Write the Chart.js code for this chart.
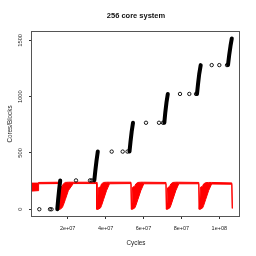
<!DOCTYPE html>
<html>
<head>
<meta charset="utf-8">
<script src="https://cdn.jsdelivr.net/npm/chart.js@4.4.1/dist/chart.umd.min.js"></script>
<style>
  html, body { margin: 0; padding: 0; background: #fff; }
  canvas { display: block; }
</style>
</head>
<body>
<canvas id="chart" width="256" height="256"></canvas>
<script>
// black circles (cores / blocks handed out)
const dotCycles = [5.01e6, 1.066e7, 1.145e7, 2.438e7, 3.177e7, 3.266e7, 4.322e7, 4.902e7, 5.156e7,
  6.132e7, 6.818e7, 7.029e7, 7.926e7, 8.417e7, 8.770e7, 9.599e7, 1.0e8, 1.0406e8];
const dotValues = [0, 0, 0, 256, 256, 256, 512, 512, 512, 768, 768, 768, 1024, 1024, 1024, 1280, 1280, 1280];

// the dense runs of circles where the count climbs
const rampCycles = [
  [1.451e7, 1.495e7, 1.545e7, 1.605e7],
  [3.404e7, 3.456e7, 3.520e7, 3.588e7],
  [5.261e7, 5.314e7, 5.377e7, 5.446e7],
  [7.098e7, 7.150e7, 7.214e7, 7.282e7],
  [8.823e7, 8.876e7, 8.939e7, 9.018e7],
  [1.0459e8, 1.0522e8, 1.0591e8, 1.0660e8]
];
const rampValues = [
  [0, 85, 170, 256],
  [256, 340, 430, 512],
  [512, 600, 690, 768],
  [768, 860, 950, 1024],
  [1024, 1110, 1200, 1280],
  [1280, 1370, 1450, 1517]
];

// red trace: top and bottom of the busy band
const redCycles = [0, 4.33e6, 4.64e6, 1.515e7, 1.536e7, 1.557e7, 1.599e7, 1.715e7, 1.768e7, 1.873e7, 2.032e7, 2.296e7,
  3.520e7, 3.541e7, 3.573e7, 3.615e7, 3.731e7, 3.784e7, 3.889e7, 4.047e7, 4.206e7,
  5.340e7, 5.361e7, 5.383e7, 5.425e7, 5.541e7, 5.594e7, 5.699e7, 5.858e7, 6.016e7,
  7.187e7, 7.208e7, 7.230e7, 7.272e7, 7.388e7, 7.441e7, 7.546e7, 7.704e7, 7.863e7,
  8.918e7, 8.939e7, 8.960e7, 9.003e7, 9.119e7, 9.171e7, 9.277e7, 9.435e7, 9.594e7,
  1.0660e8, 1.0686e8];
const redUpper = [232, 232, 238, 240, 0, 0, 195, 205, 225, 238, 240, 240,
  240, 0, 0, 190, 200, 225, 238, 240, 240,
  240, 0, 0, 195, 205, 225, 238, 240, 240,
  238, 0, 0, 190, 205, 225, 238, 240, 240,
  238, 0, 0, 195, 205, 225, 236, 238, 238,
  234, 10];
const redLower = [160, 165, 226, 228, 0, 0, 0, 15, 35, 85, 165, 228,
  228, 0, 0, 0, 12, 32, 85, 165, 226,
  228, 0, 0, 0, 12, 32, 85, 165, 226,
  226, 0, 0, 0, 12, 32, 85, 165, 226,
  226, 0, 0, 0, 12, 32, 85, 165, 224,
  222, 5];

const xTickValues = [2e7, 4e7, 6e7, 8e7, 1e8];
const xTickLabels = ["2e+07", "4e+07", "6e+07", "8e+07", "1e+08"];
const yTickValues = [0, 500, 1000, 1500];

const FONT = "'Liberation Sans', Arial, sans-serif";

const dots = dotCycles.map((c, i) => ({ x: c, y: dotValues[i] }));
const upper = redCycles.map((c, i) => ({ x: c, y: redUpper[i] }));
const lower = redCycles.map((c, i) => ({ x: c, y: redLower[i] }));

const rampSets = rampCycles.map((cs, k) => ({
  data: cs.map((c, i) => ({ x: c, y: rampValues[k][i] })),
  borderColor: "#000",
  borderWidth: 4,
  borderCapStyle: "round",
  borderJoinStyle: "round",
  pointRadius: 0,
  fill: false
}));

// R style box round the plot region
const boxPlugin = {
  id: "box",
  afterDraw(chart) {
    const { ctx, chartArea: a } = chart;
    ctx.save();
    ctx.strokeStyle = "#555";
    ctx.lineWidth = 1;
    ctx.strokeRect(a.left - 0.5, a.top - 0.5, a.right - a.left, a.bottom - a.top + 1);
    ctx.restore();
  }
};

new Chart(document.getElementById("chart"), {
  type: "line",
  data: {
    datasets: [
      {
        data: dots,
        showLine: false,
        pointRadius: 1.7,
        pointBorderWidth: 0.9,
        pointBorderColor: "#000",
        pointBackgroundColor: "rgba(0,0,0,0)"
      },
      ...rampSets,
      {
        data: upper,
        borderColor: "#f00",
        borderWidth: 1,
        pointRadius: 0,
        fill: false
      },
      {
        data: lower,
        borderColor: "#f00",
        borderWidth: 1,
        pointRadius: 0,
        backgroundColor: "#f00",
        fill: "-1"
      }
    ]
  },
  options: {
    responsive: false,
    animation: false,
    devicePixelRatio: 1,
    layout: { padding: { left: 0, right: 16, top: 0, bottom: 0 } },
    plugins: {
      legend: { display: false },
      tooltip: { enabled: false },
      title: {
        display: true,
        fullSize: false,
        text: "256 core system",
        color: "#111",
        font: { family: FONT, size: 7.5, weight: "bold" },
        padding: { top: 11.5, bottom: 11.5 }
      }
    },
    scales: {
      x: {
        type: "linear",
        min: 1.16e6,
        max: 1.1092e8,
        afterBuildTicks: s => { s.ticks = xTickValues.map(v => ({ value: v })); },
        afterFit: s => { s.height = 40; },
        ticks: {
          autoSkip: false,
          maxRotation: 0,
          padding: 6,
          color: "#222",
          font: { family: FONT, size: 5.5 },
          callback: (v, i) => xTickLabels[i]
        },
        grid: { drawOnChartArea: false, tickLength: 3, color: "#333", tickColor: "#333" },
        border: { display: false },
        title: {
          display: true,
          text: "Cycles",
          color: "#222",
          font: { family: FONT, size: 6.3 },
          padding: { top: 0, bottom: 8.7 }
        }
      },
      y: {
        type: "linear",
        min: -60,
        max: 1574,
        afterBuildTicks: s => { s.ticks = yTickValues.map(v => ({ value: v })); },
        afterFit: s => { s.width = 32; },
        ticks: {
          autoSkip: false,
          minRotation: 90,
          maxRotation: 90,
          crossAlign: "center",
          padding: 2,
          color: "#222",
          font: { family: FONT, size: 5.7 },
          callback: v => String(v)
        },
        grid: { drawOnChartArea: false, tickLength: 3, color: "#333", tickColor: "#333" },
        border: { display: false },
        title: {
          display: true,
          text: "Cores/Blocks",
          color: "#222",
          font: { family: FONT, size: 6.3 },
          padding: { top: 6.5, bottom: 0 }
        }
      }
    }
  },
  plugins: [boxPlugin]
});
</script>
</body>
</html>
